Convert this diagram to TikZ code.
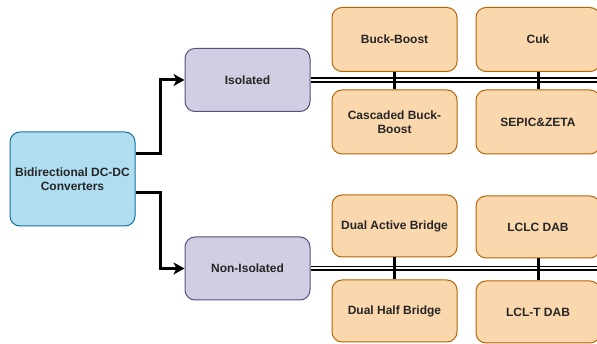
\documentclass[tikz,border=0pt]{standalone}
\usepackage{fontspec}
\setmainfont{Liberation Sans}
\usetikzlibrary{arrows.meta}
\definecolor{bfill}{HTML}{B1DDF0}
\definecolor{bdraw}{HTML}{10739E}
\definecolor{pfill}{HTML}{D0CEE2}
\definecolor{pdraw}{HTML}{56517E}
\definecolor{ofill}{HTML}{FAD7AC}
\definecolor{odraw}{HTML}{B46504}
\tikzset{
  box/.style={rounded corners=10pt, line width=1pt, align=center, inner sep=2pt,
    font=\fontsize{12}{14}\selectfont\bfseries, text=black!85},
  mainbox/.style={box, fill=bfill, draw=bdraw, minimum width=125pt, minimum height=94pt},
  catbox/.style={box, fill=pfill, draw=pdraw, minimum width=125pt, minimum height=63pt},
  typebox/.style={box, fill=ofill, draw=odraw, minimum width=125pt, minimum height=64pt},
  arr/.style={line width=3pt, -{Stealth[length=11pt,width=12pt,inset=3pt]}},
  dbl/.style={double, double distance=2pt, line width=1.6pt},
  tick/.style={line width=3pt}
}
\begin{document}
\begin{tikzpicture}[x=1pt,y=-1pt]
\useasboundingbox (0,0) rectangle (597,344);
\node[mainbox] (main) at (72.5,179) {Bidirectional DC-DC\\Converters};
\node[catbox] (iso) at (247.5,80) {Isolated};
\node[catbox] (noniso) at (247.5,268.5) {Non-Isolated};
\node[typebox] (bb) at (394.5,39.5) {Buck-Boost};
\node[typebox] (cbb) at (394.5,122) {Cascaded Buck-\\Boost};
\node[typebox, minimum width=124pt] (cuk) at (538,39.5) {Cuk};
\node[typebox, minimum width=124pt] (sepic) at (538,122) {SEPIC\&ZETA};
\node[typebox, minimum height=62pt] (dab) at (394.5,226) {Dual Active Bridge};
\node[typebox, minimum height=62pt] (dhb) at (394.5,311) {Dual Half Bridge};
\node[typebox, minimum width=124pt, minimum height=62pt] (lclc) at (538,227) {LCLC DAB};
\node[typebox, minimum width=124pt, minimum height=62pt] (lclt) at (538,312) {LCL-T DAB};
\coordinate (isoend) at (600,80);
\coordinate (nonisoend) at (600,268.5);
\draw[arr] ([yshift=25pt]main.east) -- ++(25,0) |- (iso.west);
\draw[arr] ([yshift=-14pt]main.east) -- ++(25,0) |- (noniso.west);
\draw[dbl] (iso.east) -- (isoend);
\draw[dbl] (noniso.east) -- (nonisoend);
\draw[tick] (bb.south) -- (cbb.north);
\draw[tick] (cuk.south) -- (sepic.north);
\draw[tick] (dab.south) -- (dhb.north);
\draw[tick] (lclc.south) -- (lclt.north);
\end{tikzpicture}
\end{document}
